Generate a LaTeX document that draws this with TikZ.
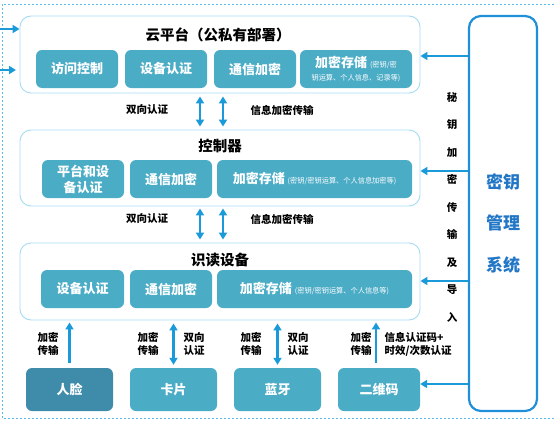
\documentclass[tikz,border=0pt]{standalone}
\usepackage{fontspec}
\setmainfont{Noto Sans CJK SC}
\usetikzlibrary{arrows.meta}
\definecolor{modfill}{HTML}{4BACC6}
\definecolor{facefill}{HTML}{3F8BAA}
\definecolor{linkblue}{HTML}{1A9AD9}
\definecolor{keyblue}{HTML}{1E8FD8}
\definecolor{keytext}{HTML}{2176C6}
\definecolor{panelline}{HTML}{A6DBF3}
\definecolor{dashline}{HTML}{55BCE8}
\newcommand{\subtxt}[1]{{\fontsize{7.2}{8.5}\selectfont\mdseries #1}}
\tikzset{
  panel/.style={draw=panelline, line width=0.9pt, rounded corners=11pt, minimum width=400pt, inner sep=0pt},
  modbox/.style={fill=modfill, rounded corners=6pt, text=white, font=\fontsize{13}{16}\selectfont\bfseries,
    minimum height=38pt, inner sep=1pt, align=center},
  devbox/.style={modbox, minimum height=43pt, minimum width=87pt},
  title/.style={font=\fontsize{14.5}{16}\selectfont\bfseries},
  note/.style={font=\fontsize{10.5}{13}\selectfont\bfseries, align=center},
  link/.style={draw=linkblue, line width=2.2pt, -{Triangle[width=8pt,length=7pt]}},
  dlink/.style={link, {Triangle[width=8pt,length=7pt]}-{Triangle[width=8pt,length=7pt]}},
}
\begin{document}
\begin{tikzpicture}[x=1pt,y=-1pt]
\useasboundingbox (0,0) rectangle (554,423);
\draw[dashline, line width=0.9pt, dash pattern=on 2pt off 2pt] (554,4) -- (2,4) -- (2,418) -- (554,418);

\node[panel, minimum height=77pt] (cloud) at (220,54.5) {};
\node[panel, minimum height=76pt] (ctrl) at (220,168) {};
\node[panel, minimum height=77pt] (reader) at (220,281.5) {};

\node[title] (cloud-t) at (218,35) {云平台（公私有部署）};
\node[title] (ctrl-t) at (220,146) {控制器};
\node[title] (reader-t) at (220,260) {识读设备};

\node[modbox, minimum width=82pt] (c1) at (77,69) {访问控制};
\node[modbox, minimum width=82pt] (c2) at (166,69) {设备认证};
\node[modbox, minimum width=82pt] (c3) at (255,69) {通信加密};
\node[modbox, minimum width=112pt] (c4) at (356,69) {加密存储 \subtxt{(密钥/密}\\[-3pt]\subtxt{钥运算、个人信息、记录等)}};

\node[modbox, minimum width=82pt] (k1) at (83,179) {平台和设\\备认证};
\node[modbox, minimum width=82pt] (k2) at (171,179) {通信加密};
\node[modbox, minimum width=195pt] (k3) at (314.5,179) {加密存储 \subtxt{(密钥/密钥运算、个人信息加密等)}};

\node[modbox, minimum width=83pt] (r1) at (82.5,289) {设备认证};
\node[modbox, minimum width=82pt] (r2) at (171,289) {通信加密};
\node[modbox, minimum width=195pt] (r3) at (314.5,289) {加密存储 \subtxt{(密钥/密钥运算、个人信息等)}};

\node[devbox, fill=facefill] (face) at (69.5,389.5) {人脸};
\node[devbox] (card) at (173.5,389.5) {卡片};
\node[devbox] (bt) at (277.5,389.5) {蓝牙};
\node[devbox, minimum width=82pt] (qr) at (379,389.5) {二维码};

\node[draw=keyblue, line width=2.2pt, rounded corners=12pt, minimum width=68pt, minimum height=395pt] (key) at (503,213.5) {};
\node[text=keytext, font=\fontsize{17}{41.5}\selectfont\bfseries, align=center] (key-t) at (503,223) {密钥\\管理\\系统};
\node[font=\fontsize{10.5}{27.5}\selectfont\bfseries, align=center] (key-l) at (452,207) {秘\\钥\\加\\密\\传\\输\\及\\导\\入};

\coordinate (ua) at (200,0);
\coordinate (ub) at (223,0);
\draw[dlink, shorten <=3pt, shorten >=3pt] (cloud.south -| ua) -- (ctrl.north -| ua);
\draw[dlink, shorten <=3pt, shorten >=3pt] (cloud.south -| ub) -- (ctrl.north -| ub);
\draw[dlink, shorten <=2pt, shorten >=3pt] (ctrl.south -| ua) -- (reader.north -| ua);
\draw[dlink, shorten <=2pt, shorten >=3pt] (ctrl.south -| ub) -- (reader.north -| ub);
\node[note] (l1) at (147,110) {双向认证};
\node[note] (l2) at (282,110) {信息加密传输};
\node[note] (l3) at (147,219) {双向认证};
\node[note] (l4) at (282,219) {信息加密传输};

\coordinate (qa) at (376,0);
\draw[link, shorten <=5pt, shorten >=2pt] (face.north) -- (reader.south -| face.north);
\draw[dlink, shorten <=3pt, shorten >=3pt] (card.north) -- (reader.south -| card.north);
\draw[dlink, shorten <=3pt, shorten >=3pt] (bt.north) -- (reader.south -| bt.north);
\draw[link, shorten <=5pt, shorten >=2pt] (qr.north -| qa) -- (reader.south -| qa);
\node[note] (f1) at (48,344) {加密\\传输};
\node[note] (d1) at (148,344) {加密\\传输};
\node[note] (d2) at (194,344) {双向\\认证};
\node[note] (b1) at (251,344) {加密\\传输};
\node[note] (b2) at (298,344) {双向\\认证};
\node[note] (q1) at (361,344) {加密\\传输};
\node[note, align=left, anchor=west] (q2) at (381,344) {信息认证码+\\时效/次数认证};

\coordinate (ka) at (0,56);
\coordinate (kb) at (0,171);
\coordinate (kc) at (0,281);
\coordinate (kd) at (0,384);
\draw[link] (key.west |- ka) -- (cloud.east |- ka);
\draw[link] (key.west |- kb) -- (ctrl.east |- kb);
\draw[link] (key.west |- kc) -- (reader.east |- kc);
\draw[link] (key.west |- kd) -- (qr.east |- kd);

\coordinate (la) at (0,29);
\coordinate (lb) at (0,70);
\coordinate (lc) at (16,70);
\draw[link] (la) -- (cloud.west |- la);
\draw[link] (lb) -- (lc);
\end{tikzpicture}
\end{document}
